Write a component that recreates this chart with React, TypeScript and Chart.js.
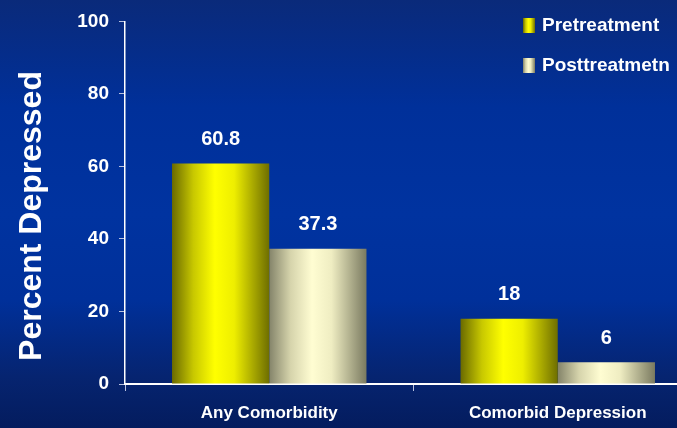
import { useEffect, useRef } from "react";
import { Chart, registerables } from "chart.js";

Chart.register(...registerables);

// ---- data ----
const categories = ["Any Comorbidity", "Comorbid Depression"];
const pretreatment = [60.8, 18];
const posttreatment = [37.3, 6];
const seriesNames = ["Pretreatment", "Posttreatmetn"];
const yTickValues = [0, 20, 40, 60, 80, 100];
const yAxisTitle = "Percent Depressed";

const FONT = '"Liberation Sans", Arial, Helvetica, sans-serif';

// horizontal "cylinder" shading for each series
const shades: [number, string][][] = [
  [
    [0, "#6a6a00"],
    [0.22, "#c8c800"],
    [0.44, "#ffff00"],
    [0.64, "#eeee00"],
    [1, "#6e6e00"],
  ],
  [
    [0, "#84846a"],
    [0.22, "#d6d4ac"],
    [0.44, "#fffdd2"],
    [0.64, "#efedc2"],
    [1, "#7a7a60"],
  ],
];
const flatColors = ["#e6e600", "#f0eec4"];

function shade(ctx: CanvasRenderingContext2D, x0: number, x1: number, idx: number) {
  const g = ctx.createLinearGradient(x0, 0, x1, 0);
  for (const [o, c] of shades[idx]) g.addColorStop(o, c);
  return g;
}

const valueLabels = {
  id: "valueLabels",
  afterDatasetsDraw(chart: any) {
    const ctx = chart.ctx as CanvasRenderingContext2D;
    ctx.save();
    ctx.fillStyle = "#ffffff";
    ctx.font = `bold 20px ${FONT}`;
    ctx.textAlign = "center";
    ctx.textBaseline = "middle";
    chart.data.datasets.forEach((ds: any, i: number) => {
      const meta = chart.getDatasetMeta(i);
      meta.data.forEach((el: any, j: number) => {
        ctx.fillText(String(ds.data[j]), el.x, el.y - 24);
      });
    });
    ctx.restore();
  },
};

const sideLegend = {
  id: "sideLegend",
  afterDraw(chart: any) {
    const ctx = chart.ctx as CanvasRenderingContext2D;
    ctx.save();
    ctx.font = `bold 19px ${FONT}`;
    ctx.textBaseline = "middle";
    ctx.textAlign = "left";
    chart.data.datasets.forEach((ds: any, i: number) => {
      const bx = 523;
      const by = 18 + i * 40;
      ctx.fillStyle = shade(ctx, bx, bx + 12, i);
      ctx.fillRect(bx, by, 12, 15);
      ctx.fillStyle = "#ffffff";
      ctx.fillText(ds.label, 542, by + 8);
    });
    ctx.restore();
  },
};

const yTitle = {
  id: "yTitle",
  afterDraw(chart: any) {
    const ctx = chart.ctx as CanvasRenderingContext2D;
    ctx.save();
    ctx.translate(32, 216);
    ctx.rotate(-Math.PI / 2);
    ctx.font = `bold 32px ${FONT}`;
    ctx.fillStyle = "#ffffff";
    ctx.textAlign = "center";
    ctx.textBaseline = "middle";
    ctx.fillText(yAxisTitle, 0, 0);
    ctx.restore();
  },
};

export default function App() {
  const canvasRef = useRef<HTMLCanvasElement | null>(null);

  useEffect(() => {
    const canvas = canvasRef.current;
    if (!canvas) return;

    const barFill = (idx: number) => (c: any) => {
      const el = c.element;
      if (!el || el.x == null || el.width == null) return flatColors[idx];
      return shade(c.chart.ctx, el.x - el.width / 2, el.x + el.width / 2, idx);
    };

    const chart = new Chart(canvas, {
      type: "bar",
      data: {
        labels: categories,
        datasets: [
          {
            label: seriesNames[0],
            data: pretreatment,
            backgroundColor: barFill(0),
            borderWidth: 0,
            categoryPercentage: 0.674,
            barPercentage: 1,
          },
          {
            label: seriesNames[1],
            data: posttreatment,
            backgroundColor: barFill(1),
            borderWidth: 0,
            categoryPercentage: 0.674,
            barPercentage: 1,
          },
        ],
      },
      options: {
        responsive: false,
        animation: false,
        devicePixelRatio: 1,
        layout: { padding: { top: 16, right: 4, left: 0, bottom: 0 } },
        plugins: {
          legend: { display: false },
          tooltip: { enabled: false },
        },
        scales: {
          x: {
            offset: true,
            grid: {
              display: true,
              drawOnChartArea: false,
              drawTicks: true,
              tickLength: 7,
              color: "#b8c2e0",
              offset: true,
            },
            border: { color: "#ffffff", width: 2 },
            ticks: {
              color: "#ffffff",
              font: { family: FONT, size: 17, weight: "bold" },
              padding: 12,
            },
            afterFit: (s: any) => {
              s.height = 44;
            },
          },
          y: {
            min: 0,
            max: 100,
            afterBuildTicks: (s: any) => {
              s.ticks = yTickValues.map((v) => ({ value: v }));
            },
            grid: {
              drawOnChartArea: false,
              drawTicks: true,
              tickLength: 6,
              color: "#b8c2e0",
            },
            border: { color: "#ffffff", width: 1.5 },
            ticks: {
              color: "#ffffff",
              font: { family: FONT, size: 19, weight: "bold" },
              padding: 10,
            },
            afterFit: (s: any) => {
              s.width = 125;
            },
          },
        },
      },
      plugins: [valueLabels, sideLegend, yTitle],
    } as any);

    // second pass so the shading follows the laid-out bars
    chart.update("none");

    return () => chart.destroy();
  }, []);

  return (
    <div
      style={{
        position: "fixed",
        left: 0,
        top: 0,
        width: 677,
        height: 428,
        overflow: "hidden",
        background:
          "linear-gradient(to bottom, #0a2a7a 0%, #00309a 25%, #0033a0 50%, #00309a 70%, #062470 88%, #041c5e 100%)",
      }}
    >
      <canvas ref={canvasRef} width={706} height={428} style={{ display: "block" }} />
    </div>
  );
}
